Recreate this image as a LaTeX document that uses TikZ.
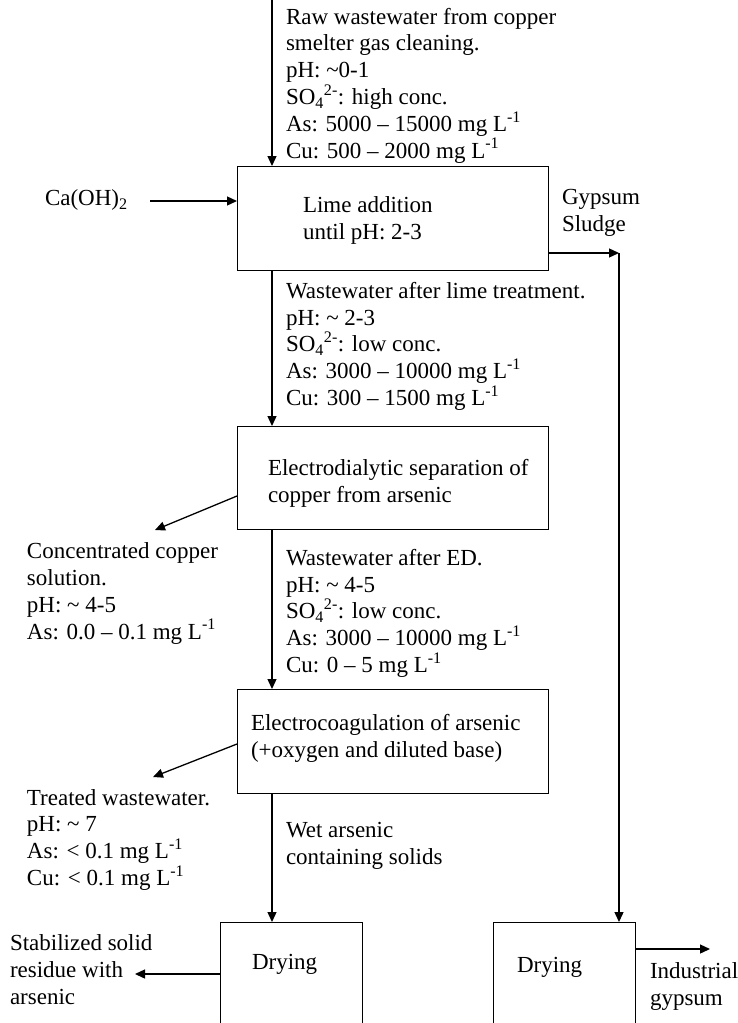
\documentclass[tikz,border=0pt]{standalone}
\usepackage{fontspec}
\setmainfont{Liberation Serif}
\usetikzlibrary{arrows.meta}
\begin{document}
\begin{tikzpicture}[x=1pt,y=-1pt,
  every node/.style={inner sep=0pt, outer sep=0pt, font=\fontsize{23}{26.8}\selectfont},
  procbox/.style={draw, line width=1pt, anchor=north west},
  txt/.style={anchor=base west, align=left},
  arr/.style={line width=1.3pt, -{Triangle[length=10pt,width=9pt]}},
]
\useasboundingbox (0,0) rectangle (737,1023);
\clip (0,0) rectangle (737,1023);
\fill[white] (0,0) rectangle (737,1023);

% process boxes
\node[procbox, minimum width=311pt, minimum height=104pt] (lime) at (237,166) {};
\node[procbox, minimum width=311pt, minimum height=103pt] (ed) at (237,426) {};
\node[procbox, minimum width=311pt, minimum height=104pt] (ec) at (237,689) {};
\node[procbox, minimum width=142pt, minimum height=130pt] (dry1) at (220,922) {};
\node[procbox, minimum width=142pt, minimum height=130pt] (dry2) at (493,922) {};

% box texts (base = baseline of the last line)
\node[txt] (limet) at (303,239.5) {Lime addition\\until pH: 2-3};
\node[txt] (edt) at (268,502) {Electrodialytic separation of\\copper from arsenic};
\node[txt] (ect) at (251,757.5) {Electrocoagulation of arsenic\\(+oxygen and diluted base)};
\node[txt] (dry1t) at (252,969.5) {Drying};
\node[txt] (dry2t) at (517,972.5) {Drying};

% stream texts
\node[txt] (t1) at (286,158) {Raw wastewater from copper\\smelter gas cleaning.\\pH: \textasciitilde 0-1\\SO\textsubscript{4}\textsuperscript{2-}: high conc.\\As: 5000 – 15000 mg L\textsuperscript{-1}\\Cu: 500 – 2000 mg L\textsuperscript{-1}};
\node[txt] (t2) at (286,405.5) {Wastewater after lime treatment.\\pH: \textasciitilde{} 2-3\\SO\textsubscript{4}\textsuperscript{2-}: low conc.\\As: 3000 – 10000 mg L\textsuperscript{-1}\\Cu: 300 – 1500 mg L\textsuperscript{-1}};
\node[txt] (t3) at (286,672.5) {Wastewater after ED.\\pH: \textasciitilde{} 4-5\\SO\textsubscript{4}\textsuperscript{2-}: low conc.\\As: 3000 – 10000 mg L\textsuperscript{-1}\\Cu: 0 – 5 mg L\textsuperscript{-1}};
\node[txt] (conc) at (27,639) {Concentrated copper\\solution.\\pH: \textasciitilde{} 4-5\\As: 0.0 – 0.1 mg L\textsuperscript{-1}};
\node[txt] (treat) at (27,885.5) {Treated wastewater.\\pH: \textasciitilde{} 7\\As: < 0.1 mg L\textsuperscript{-1}\\Cu: < 0.1 mg L\textsuperscript{-1}};
\node[txt] (wet) at (286,864.5) {Wet arsenic\\containing solids};
\node[txt] (stab) at (10,1004.5) {Stabilized solid\\residue with\\arsenic};
\node[txt] (ind) at (650,1005.5) {Industrial\\gypsum};
\node[txt] (gyps) at (562,231.5) {Gypsum\\Sludge};
\node[txt] (caoh) at (45,205.5) {Ca(OH)\textsubscript{2}};

% connectors
\coordinate (src) at (272,0);
\draw[arr] (src) -- (src |- lime.north);
\coordinate (caS) at (150,201);
\draw[arr] (caS) -- (caS -| lime.west);
\draw[arr] ([xshift=35pt]lime.south west) -- ([xshift=35pt]ed.north west);
\coordinate (gyp) at (619,253);
\draw[arr] (lime.east |- gyp) -- (gyp);
\draw[arr] (gyp) -- (gyp |- dry2.north);
\coordinate (cuOut) at (155,530);
\draw[arr] ([yshift=-18.5pt]ed.west) -- (cuOut);
\draw[arr] ([xshift=35pt]ed.south west) -- ([xshift=35pt]ec.north west);
\coordinate (twOut) at (153,777);
\draw[arr] ([yshift=-3pt]ec.west) -- (twOut);
\draw[arr] ([xshift=35pt]ec.south west) -- ([xshift=35pt]ec.south west |- dry1.north);
\coordinate (resOut) at (135,974);
\draw[arr] (dry1.west |- resOut) -- (resOut);
\coordinate (indOut) at (710,949);
\draw[arr] (dry2.east |- indOut) -- (indOut);
\end{tikzpicture}
\end{document}
